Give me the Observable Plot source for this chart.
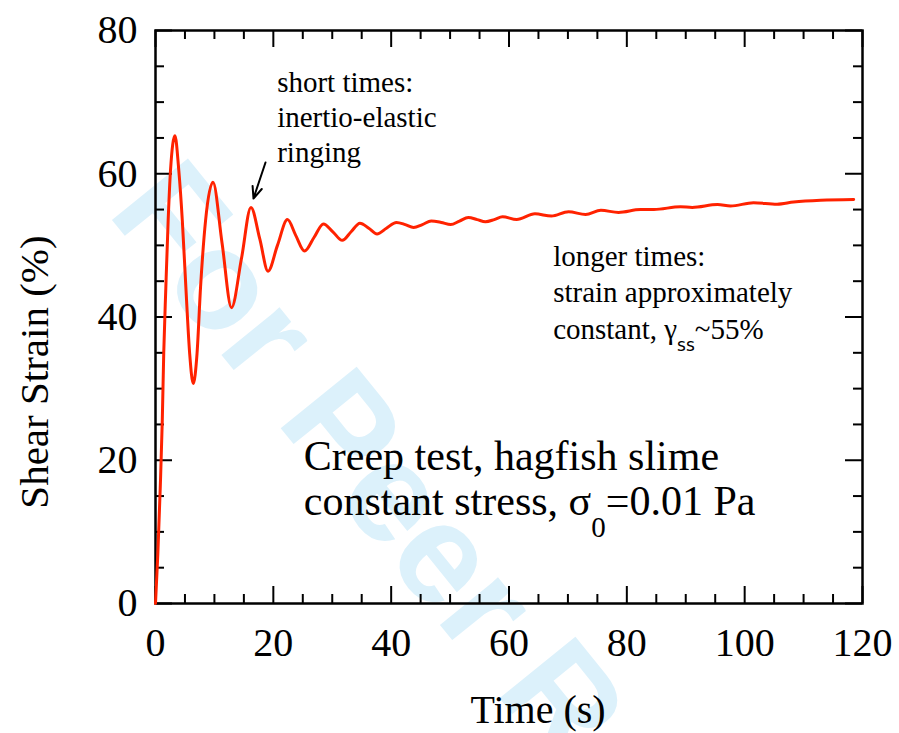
<!DOCTYPE html>
<html>
<head>
<meta charset="utf-8">
<script src="https://cdn.jsdelivr.net/npm/d3@7"></script>
<script src="https://cdn.jsdelivr.net/npm/@observablehq/plot@0.6"></script>
<style>
  html, body { margin: 0; padding: 0; background: #fff; }
</style>
</head>
<body>
<div id="chart"></div>
<script>
// ---- data ----
const timeS = [0, 0.4, 0.8, 1.15, 1.4, 1.75, 2.15, 2.55, 3.3, 3.95, 4.55, 5.15, 5.8, 6.4, 7.05, 7.65, 8.5, 9.75, 11.3, 12.9, 14.6, 16.2, 17.7, 19.1, 20.7, 22.4, 23.8, 25.3, 26.9, 28.5, 30.1, 31.7, 33.2, 34.7, 36.2, 37.6, 39.2, 40.9, 42.4, 43.8, 45.3, 46.8, 48.5, 50.1, 51.6, 53.1, 54.6, 56.0, 57.5, 58.9, 61.3, 64.4, 67.2, 70.1, 73.0, 75.6, 78.6, 82.3, 84.6, 89.1, 91.1, 95.4, 97.6, 101.5, 105.5, 108.3, 112.9, 118.5];
const strainPct = [0, 7, 16, 25.5, 35, 44, 53.5, 60.5, 65.3, 60.5, 53.5, 44.2, 34.9, 30.7, 34.9, 44.2, 53.5, 58.8, 50.3, 41.3, 48.2, 55.3, 50.9, 46.4, 50.0, 53.6, 51.4, 49.2, 51.1, 53.0, 51.9, 50.7, 51.9, 53.1, 52.4, 51.6, 52.4, 53.2, 52.9, 52.5, 52.9, 53.4, 53.2, 52.9, 53.4, 53.9, 53.6, 53.3, 53.6, 54.0, 53.6, 54.4, 54.1, 54.7, 54.3, 54.9, 54.6, 55.0, 55.0, 55.4, 55.3, 55.7, 55.5, 55.95, 55.75, 56.05, 56.3, 56.4];

const xMajor = [0, 20, 40, 60, 80, 100, 120];
const xMinor = [5, 10, 15, 25, 30, 35, 45, 50, 55, 65, 70, 75, 85, 90, 95, 105, 110, 115];
const yMajor = [0, 20, 40, 60, 80];
const yMinor = [5, 10, 15, 25, 30, 35, 45, 50, 55, 65, 70, 75];

const xTitle = "Time (s)";
const yTitle = "Shear Strain (%)";
const noteShort = "short times:\ninertio-elastic\nringing";
const noteLong = "longer times:\nstrain approximately\nconstant, γss~55%";
const noteMain = "Creep test, hagfish slime\nconstant stress, σ0=0.01 Pa";
const watermark = "For Peer Review";

const rows = timeS.map((t, i) => ({t, s: strainPct[i]}));

const W = 899, H = 733;
const mL = 155, mR = 37, mT = 30, mB = 130;
const innerW = W - mL - mR, innerH = H - mT - mB;
const majorLen = 17, minorLen = 9;
const serif = '"Liberation Serif", "Times New Roman", Times, serif';

const chart = Plot.plot({
  width: W,
  height: H,
  marginLeft: mL,
  marginRight: mR,
  marginTop: mT,
  marginBottom: mB,
  style: {fontFamily: serif, background: "#fff", overflow: "hidden"},
  x: {domain: [0, 120], axis: null},
  y: {domain: [0, 80], axis: null},
  marks: [
    // faint watermark
    Plot.text([watermark], {x: -2.4, y: 58.6, text: d => d, rotate: 51, fontSize: 142, fontWeight: "bold",
      fontFamily: '"Liberation Sans", Arial, sans-serif', fill: "#dcf1fb", textAnchor: "start", lineAnchor: "middle"}),
    // ticks (inward) on all four sides
    Plot.tickX(xMajor, {x: d => d, insetTop: innerH - majorLen, stroke: "#000", strokeWidth: 2}),
    Plot.tickX(xMajor, {x: d => d, insetBottom: innerH - majorLen, stroke: "#000", strokeWidth: 2}),
    Plot.tickX(xMinor, {x: d => d, insetTop: innerH - minorLen, stroke: "#000", strokeWidth: 2}),
    Plot.tickX(xMinor, {x: d => d, insetBottom: innerH - minorLen, stroke: "#000", strokeWidth: 2}),
    Plot.tickY(yMajor, {y: d => d, insetRight: innerW - majorLen, stroke: "#000", strokeWidth: 2}),
    Plot.tickY(yMajor, {y: d => d, insetLeft: innerW - majorLen, stroke: "#000", strokeWidth: 2}),
    Plot.tickY(yMinor, {y: d => d, insetRight: innerW - minorLen, stroke: "#000", strokeWidth: 2}),
    Plot.tickY(yMinor, {y: d => d, insetLeft: innerW - minorLen, stroke: "#000", strokeWidth: 2}),
    Plot.frame({stroke: "#000", strokeWidth: 2.5}),
    // tick labels
    Plot.text(xMajor, {x: d => d, text: d => String(d), frameAnchor: "bottom", dy: 40, fontSize: 40,
      textAnchor: "middle", lineAnchor: "middle", fill: "#000"}),
    Plot.text(yMajor, {y: d => d, text: d => String(d), frameAnchor: "left", dx: -18, dy: 0, fontSize: 40,
      textAnchor: "end", lineAnchor: "middle", fill: "#000"}),
    // axis titles
    Plot.text([xTitle], {text: d => d, frameAnchor: "bottom", dx: 29, dy: 107, fontSize: 40,
      textAnchor: "middle", lineAnchor: "middle", fill: "#000"}),
    Plot.text([yTitle], {text: d => d, frameAnchor: "left", dx: -121, dy: 55, rotate: -90, fontSize: 41,
      textAnchor: "middle", lineAnchor: "middle", fill: "#000"}),
    // data curve
    Plot.line(rows, {x: "t", y: "s", stroke: "#ff2200", strokeWidth: 3, curve: "monotone-x"}),
    // annotations
    Plot.text([noteShort], {x: 20.65, y: 74.8, text: d => d, fontSize: 29, lineHeight: 1.2,
      textAnchor: "start", lineAnchor: "top", fill: "#000"}),
    Plot.arrow([noteShort], {x1: 18.67, y1: 61.57, x2: 16.63, y2: 56.54, stroke: "#000", strokeWidth: 2,
      headLength: 13, headAngle: 45}),
    Plot.text([noteLong], {x: 67.49, y: 50.76, text: d => d, fontSize: 29, lineHeight: 1.26,
      textAnchor: "start", lineAnchor: "top", fill: "#000"}),
    Plot.text([noteMain], {x: 25.17, y: 23.15, text: d => d, fontSize: 42, lineHeight: 1.07,
      textAnchor: "start", lineAnchor: "top", fill: "#000"})
  ]
});

// turn the placeholder lines into real subscripts
const NS = "http://www.w3.org/2000/svg";
function subscript(root, line, before, sub, after, opts) {
  for (const el of root.querySelectorAll("text, tspan")) {
    if (el.childElementCount === 0 && el.textContent === line) {
      el.textContent = before;
      const s = document.createElementNS(NS, "tspan");
      s.setAttribute("dy", opts.dy);
      s.setAttribute("font-size", opts.size);
      if (opts.family) s.setAttribute("font-family", opts.family);
      s.textContent = sub;
      el.appendChild(s);
      const a = document.createElementNS(NS, "tspan");
      a.setAttribute("dy", -opts.dy);
      a.textContent = after;
      el.appendChild(a);
    }
  }
}
subscript(chart, "constant, γss~55%", "constant, γ", "ss", "~55%",
  {dy: 12, size: 17, family: '"DejaVu Sans", "Liberation Sans", sans-serif'});
subscript(chart, "constant stress, σ0=0.01 Pa", "constant stress, σ", "0", "=0.01 Pa",
  {dy: 22, size: 29});

document.getElementById("chart").appendChild(chart);
</script>
</body>
</html>
